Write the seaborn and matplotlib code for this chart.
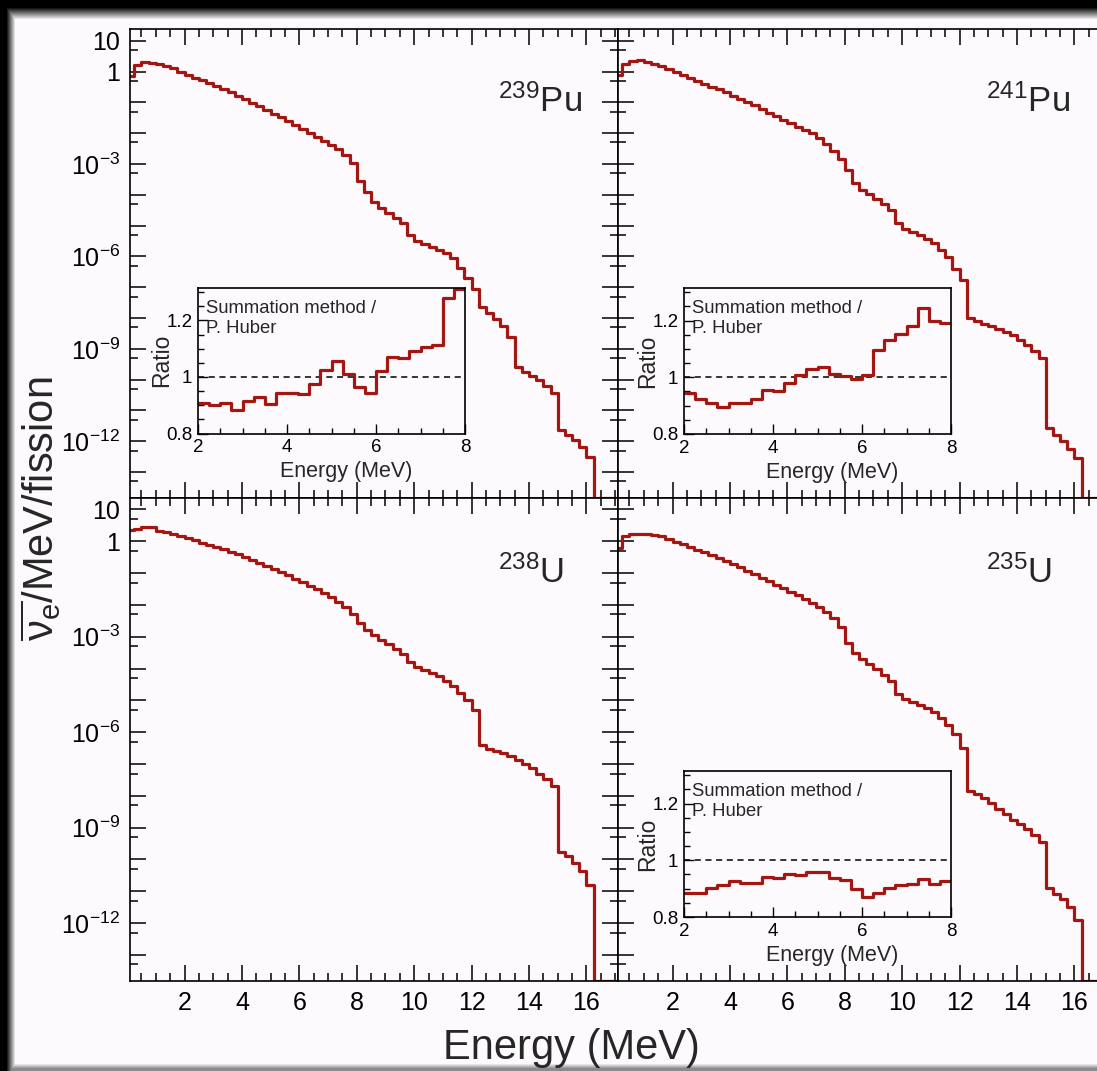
import numpy as np
import pandas as pd
import matplotlib
matplotlib.use("Agg")
import matplotlib.pyplot as plt
import seaborn as sns
from matplotlib.ticker import FixedLocator, FuncFormatter, MultipleLocator, NullFormatter

# ---------------- data ----------------
# antineutrino spectra: log10(nu/MeV/fission) in 0.25 MeV bins starting at 0 MeV
spec_bin_width = 0.25
pu239_log = [-0.15, 0.22, 0.30, 0.28, 0.24, 0.17, 0.10, -0.02, -0.12, -0.20,
             -0.29, -0.37, -0.47, -0.57, -0.67, -0.78, -0.90, -1.02, -1.13, -1.25,
             -1.37, -1.49, -1.61, -1.74, -1.87, -1.99, -2.11, -2.24, -2.37, -2.53,
             -2.72, -2.97, -3.55, -3.90, -4.25, -4.42, -4.58, -4.74, -4.92, -5.30,
             -5.50, -5.60, -5.69, -5.79, -5.90, -6.05, -6.38, -6.70, -7.05, -7.65,
             -7.84, -8.02, -8.25, -8.60, -9.60, -9.75, -9.88, -10.02, -10.20, -10.42,
             -11.62, -11.80, -11.95, -12.17, -12.50]
pu241_log = [-0.10, 0.24, 0.35, 0.36, 0.30, 0.24, 0.17, 0.08, -0.03, -0.12,
             -0.22, -0.30, -0.40, -0.49, -0.58, -0.68, -0.78, -0.88, -0.99, -1.10,
             -1.22, -1.33, -1.44, -1.56, -1.68, -1.79, -1.90, -2.01, -2.17, -2.36,
             -2.58, -2.85, -3.20, -3.62, -3.85, -3.99, -4.14, -4.30, -4.48, -4.90,
             -5.10, -5.21, -5.31, -5.42, -5.56, -5.78, -6.02, -6.40, -6.75, -8.00,
             -8.10, -8.18, -8.26, -8.36, -8.46, -8.56, -8.70, -8.86, -9.06, -9.30,
             -11.57, -11.80, -12.00, -12.25, -12.55]
u238_log = [0.35, 0.38, 0.44, 0.44, 0.32, 0.28, 0.22, 0.16, 0.10, 0.03,
            -0.04, -0.11, -0.18, -0.25, -0.33, -0.41, -0.50, -0.58, -0.67, -0.77,
            -0.86, -0.96, -1.07, -1.18, -1.29, -1.40, -1.51, -1.62, -1.76, -1.91,
            -2.08, -2.30, -2.58, -2.80, -2.94, -3.10, -3.24, -3.38, -3.55, -3.80,
            -3.96, -4.06, -4.14, -4.24, -4.38, -4.56, -4.78, -5.00, -5.30, -6.40,
            -6.52, -6.58, -6.66, -6.76, -6.88, -7.00, -7.14, -7.30, -7.48, -7.70,
            -9.76, -9.90, -10.10, -10.35, -10.80]
u235_log = [-0.20, 0.15, 0.24, 0.24, 0.23, 0.20, 0.15, 0.07, -0.02, -0.10,
            -0.18, -0.27, -0.35, -0.44, -0.53, -0.62, -0.72, -0.82, -0.92, -1.03,
            -1.14, -1.25, -1.36, -1.47, -1.59, -1.70, -1.81, -1.93, -2.06, -2.22,
            -2.42, -2.68, -3.20, -3.50, -3.70, -3.86, -4.02, -4.20, -4.40, -4.80,
            -4.95, -5.04, -5.14, -5.25, -5.38, -5.56, -5.78, -6.05, -6.50, -7.85,
            -7.95, -8.06, -8.22, -8.40, -8.58, -8.75, -8.88, -9.04, -9.22, -9.45,
            -10.91, -11.08, -11.25, -11.50, -11.90]
n_empty_bins = 4  # empty bins (zero content) after the endpoint

# ratio summation / Huber, 0.25 MeV bins from 2 to 8 MeV
ratio_start = 2.0
pu239_ratio = [0.909, 0.900, 0.908, 0.884, 0.914, 0.929, 0.903, 0.943, 0.943, 0.941,
               0.976, 1.026, 1.056, 1.012, 0.965, 0.943, 1.021, 1.071, 1.069, 1.091,
               1.106, 1.112, 1.278, 1.313]
pu241_ratio = [0.943, 0.923, 0.908, 0.894, 0.908, 0.911, 0.925, 0.955, 0.950, 0.979,
               1.008, 1.030, 1.035, 1.012, 1.006, 0.994, 1.008, 1.098, 1.130, 1.154,
               1.181, 1.243, 1.199, 1.192]
u235_ratio = [0.884, 0.886, 0.904, 0.912, 0.927, 0.920, 0.920, 0.942, 0.936, 0.951,
              0.948, 0.960, 0.960, 0.936, 0.929, 0.898, 0.871, 0.886, 0.904, 0.912,
              0.915, 0.935, 0.915, 0.927]

isotopes = ["239", "241", "238", "235"]
elements = ["Pu", "Pu", "U", "U"]
ytick_labels = {1: "10", 0: "1", -3: "$10^{-3}$", -6: "$10^{-6}$",
                -9: "$10^{-9}$", -12: "$10^{-12}$"}

# ---------------- style ----------------
sns.set_style("ticks")
plt.rcParams["font.family"] = ["Liberation Sans", "DejaVu Sans"]
plt.rcParams["mathtext.fontset"] = "custom"
plt.rcParams["mathtext.rm"] = "Liberation Sans"
plt.rcParams["mathtext.it"] = "Liberation Sans:italic"
plt.rcParams["mathtext.bf"] = "Liberation Sans:bold"
plt.rcParams["mathtext.sf"] = "Liberation Sans"

RED = "#a31612"
BG = "#fdfafd"
W, H = 1097, 1071
fig = plt.figure(figsize=(W / 100, H / 100), dpi=100, facecolor=BG)

# dark vignette around the edge of the screenshot
yy, xx = np.mgrid[0:H, 0:W]
def fade(d, full, soft):
    return np.clip(1 - (d - full) / soft, 0, 1)
alpha = np.maximum.reduce([fade(yy, 7, 12), fade(xx, 6, 9), 0.45 * fade(H - 1 - yy, 2, 5)])
img = np.zeros((H, W, 4))
img[..., 3] = alpha
bg = fig.add_axes([0, 0, 1, 1], zorder=-5)
bg.imshow(img, aspect="auto", interpolation="bilinear")
bg.axis("off")

def px_axes(x0, y0, x1, y1, **kw):
    return fig.add_axes([x0 / W, 1 - y1 / H, (x1 - x0) / W, (y1 - y0) / H], **kw)

panels = [
    (130, 29, 618, 498, (-13.84, 1.38), True, False),
    (618, 29, 1106, 498, (-13.84, 1.38), False, False),
    (130, 498, 618, 981, (-13.82, 1.36), True, True),
    (618, 498, 1106, 981, (-13.82, 1.36), False, True),
]
spectra = [pu239_log, pu241_log, u238_log, u235_log]

for i, (x0, y0, x1, y1, ylog, ylab, xlab) in enumerate(panels):
    ax = px_axes(x0, y0, x1, y1, facecolor=BG)
    logs = np.array(spectra[i])
    vals = np.concatenate([10.0 ** logs, np.zeros(n_empty_bins)])
    edges = np.arange(len(vals) + 1) * spec_bin_width
    ymin, ymax = 10 ** ylog[0], 10 ** ylog[1]
    shown = np.where(vals > 0, vals, ymin)
    df = pd.DataFrame({"E": edges, "v": np.append(shown, shown[-1])})
    sns.lineplot(data=df, x="E", y="v", ax=ax, color=RED, lw=2.3,
                 drawstyle="steps-post", estimator=None, sort=False)
    ax.set_yscale("log")
    ax.set_xlim(0.1, 17.1)
    ax.set_ylim(ymin, ymax)
    ax.set_xlabel("")
    ax.set_ylabel("")
    ax.yaxis.set_major_locator(FixedLocator([10.0 ** k for k in range(-14, 3)]))
    ax.yaxis.set_minor_locator(FixedLocator([5 * 10.0 ** k for k in range(-15, 2)]))
    if ylab:
        ax.yaxis.set_major_formatter(FuncFormatter(
            lambda v, p: ytick_labels.get(int(round(np.log10(v))), "")))
    else:
        ax.yaxis.set_major_formatter(NullFormatter())
    ax.yaxis.set_minor_formatter(NullFormatter())
    ax.xaxis.set_major_locator(MultipleLocator(2))
    ax.xaxis.set_minor_locator(MultipleLocator(0.5))
    if not xlab:
        ax.xaxis.set_major_formatter(NullFormatter())
    ax.tick_params(which="both", direction="in", top=True, right=ylab,
                   width=1.1, colors="black", labelsize=18)
    ax.tick_params(which="major", length=11.5)
    ax.tick_params(which="minor", length=5.8)
    ax.tick_params(axis="y", pad=7)
    ax.tick_params(axis="x", pad=7)
    for s in ax.spines.values():
        s.set_linewidth(1.2)
        s.set_color("black")
    ty = 0.823 if i < 2 else 0.824
    ax.text(0.754, ty, rf"$^{{\mathregular{{{isotopes[i]}}}}}$" + elements[i],
            transform=ax.transAxes, fontsize=25, ha="left", va="baseline")

insets = [
    ((198, 288, 465, 433.5), pu239_ratio),
    ((684, 288, 951, 434), pu241_ratio),
    ((684, 771, 951, 917), u235_ratio),
]
for (x0, y0, x1, y1), ratio in insets:
    ia = px_axes(x0, y0, x1, y1, facecolor=BG, zorder=3)
    r = np.array(ratio)
    redges = ratio_start + np.arange(len(r) + 1) * 0.25
    rdf = pd.DataFrame({"E": redges, "r": np.append(r, r[-1])})
    ia.axhline(1.0, color="black", lw=1.1, ls=(0, (4, 3)))
    sns.lineplot(data=rdf, x="E", y="r", ax=ia, color=RED, lw=2.3,
                 drawstyle="steps-post", estimator=None, sort=False)
    ia.set_xlim(2, 8)
    ia.set_ylim(0.8, 1.315)
    ia.xaxis.set_major_locator(MultipleLocator(2))
    ia.xaxis.set_minor_locator(MultipleLocator(0.5))
    ia.yaxis.set_major_locator(FixedLocator([0.8, 1.0, 1.2]))
    ia.yaxis.set_minor_locator(MultipleLocator(0.05))
    ia.yaxis.set_major_formatter(FuncFormatter(lambda v, p: "1" if abs(v - 1) < 1e-6 else f"{v:.1f}"))
    ia.tick_params(which="both", direction="in", top=False, right=False,
                   width=1.0, labelsize=13.5, colors="black")
    ia.tick_params(which="major", length=7)
    ia.tick_params(which="minor", length=4)
    ia.tick_params(axis="x", pad=4)
    ia.tick_params(axis="y", pad=4)
    for s in ia.spines.values():
        s.set_linewidth(1.2)
        s.set_color("black")
    ia.set_xlabel("Energy (MeV)", fontsize=15.5)
    ia.xaxis.set_label_coords(0.555, -0.19)
    ia.set_ylabel("Ratio", fontsize=16.5)
    ia.yaxis.set_label_coords(-0.095, 0.5)
    ia.text(0.03, 0.83, "Summation method /", transform=ia.transAxes,
            fontsize=13.3, va="baseline")
    ia.text(0.03, 0.69, "P. Huber", transform=ia.transAxes,
            fontsize=13.3, va="baseline")

fig.text(0.521, 0.0215, "Energy (MeV)", fontsize=30, ha="center", va="center")
fig.text(0.037, 0.525, r"$\overline{\mathrm{\nu}_\mathrm{e}}$/MeV/fission",
         fontsize=30, rotation=90, ha="center", va="center")

fig.savefig("out.png", dpi=100, facecolor=BG)
